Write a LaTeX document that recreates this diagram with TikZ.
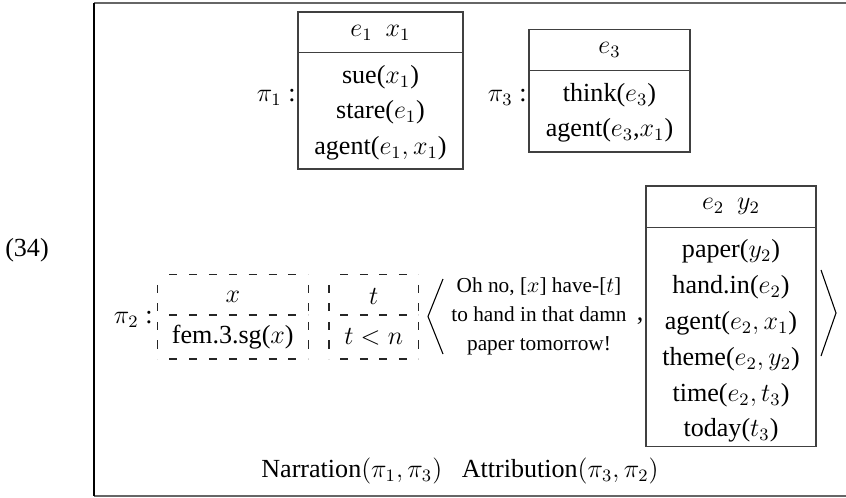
\documentclass[tikz,border=0pt]{standalone}
\usepackage[no-math]{fontspec}
\setmainfont{Liberation Serif}
\usetikzlibrary{decorations}
\begin{document}
\begin{tikzpicture}[x=0.46pt,y=-0.46pt,
  every node/.style={inner sep=0pt, font=\fontsize{12}{14}\selectfont},
  drs/.style={draw=black!75, line width=0.6pt},
  ddrs/.style={draw=black!85, line width=0.5pt, dash pattern=on 3.7pt off 4.8pt, dash expand off},
  quote/.style={font=\fontsize{9.8}{13.3}\selectfont, align=center},
  delim/.style={line width=0.5pt, line join=miter},
  framerule/.style={line width=0.9pt}]
\useasboundingbox (0,0) rectangle (846,497);

% enclosing frame, open on the right
\draw[framerule, black!60] (846,3) -- (94,3);
\draw[framerule, black!60] (94,496) -- (846,496);
\draw[framerule] (94,3) -- (94,496);

\node (num) at (27,250) {(34)};

% pi_1
\draw[drs] (298,12) rectangle (463,169);
\draw[drs] (298,52.5) -- (463,52.5);
\node[anchor=east] (lab1) at (296,97) {$\pi_1$ :};
\node (u1) at (380.5,33) {$e_1\ \ x_1$};
\node (c11) at (380.5,77) {sue($x_1$)};
\node (c12) at (380.5,112.5) {stare($e_1$)};
\node (c13) at (380.5,148) {agent($e_1,x_1$)};

% pi_3
\draw[drs] (529,29.5) rectangle (690,152);
\draw[drs] (529,70.5) -- (690,70.5);
\node[anchor=east] (lab3) at (527,97) {$\pi_3$ :};
\node (u3) at (609.5,50) {$e_3$};
\node (c31) at (609.5,95) {think($e_3$)};
\node (c32) at (609.5,130) {agent($e_3$,$x_1$)};

% pi_2: presupposition boxes
\node[anchor=east] (lab2) at (153,319) {$\pi_2$ :};
\draw[ddrs] (157.3,274.3) -- (308.3,274.3);
\draw[ddrs] (157.3,359) -- (308.3,359);
\draw[ddrs] (157.3,274.3) -- (157.3,359);
\draw[ddrs] (308.3,274.3) -- (308.3,359);
\draw[ddrs] (157.3,315) -- (308.3,315);
\node (ux) at (232.8,296.7) {$x$};
\node (cx) at (232.8,336.7) {fem.3.sg($x$)};
\draw[ddrs] (329,274.3) -- (418.3,274.3);
\draw[ddrs] (329,359) -- (418.3,359);
\draw[ddrs] (329,274.3) -- (329,359);
\draw[ddrs] (418.3,274.3) -- (418.3,359);
\draw[ddrs] (329,315) -- (418.3,315);
\node (ut) at (373.7,296.7) {$t$};
\node (ct) at (373.7,336.7) {$t<n$};

% quoted pair
\coordinate (la1) at (443,279);
\coordinate (la2) at (428,316.5);
\coordinate (la3) at (443,354);
\draw[delim] (la1) -- (la2) -- (la3);
\node[quote] (q) at (539,316.5) {Oh no, [$x$] have-[$t$]\\to hand in that damn\\paper tomorrow!};
\node[anchor=base] (comma) at (640,320) {,};

\draw[drs] (646,186) rectangle (816,446.7);
\draw[drs] (646,227.3) -- (816,227.3);
\node (u2) at (731,206.7) {$e_2\ \ y_2$};
\node (c21) at (731,251.7) {paper($y_2$)};
\node (c22) at (731,287.5) {hand.in($e_2$)};
\node (c23) at (731,323.5) {agent($e_2,x_1$)};
\node (c24) at (731,359.5) {theme($e_2,y_2$)};
\node (c25) at (731,395.5) {time($e_2,t_3$)};
\node (c26) at (731,430.5) {today($t_3$)};

\coordinate (ra1) at (821,270);
\coordinate (ra2) at (836,313);
\coordinate (ra3) at (821,356);
\draw[delim] (ra1) -- (ra2) -- (ra3);

% discourse relations
\node (rel) at (460,471) {Narration$(\pi_1,\pi_3)$\hspace{9pt}Attribution$(\pi_3,\pi_2)$};
\end{tikzpicture}
\end{document}
